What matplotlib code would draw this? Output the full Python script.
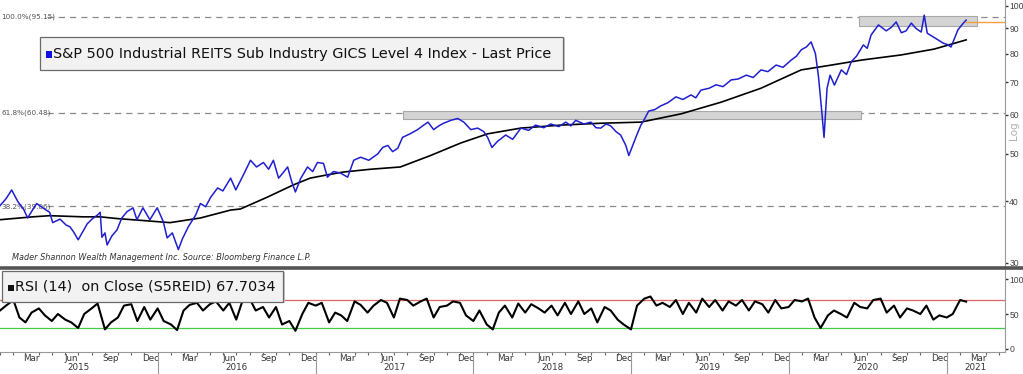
import matplotlib
matplotlib.use('Agg')
import matplotlib.pyplot as plt
import matplotlib.dates as mdates
import matplotlib.ticker as mticker
import pandas as pd
from matplotlib.patches import Rectangle
from matplotlib.lines import Line2D

# ---------------- data ----------------
price_dates = [
    "2015-01-01", "2015-01-15", "2015-01-28", "2015-02-11", "2015-02-25", "2015-03-06", "2015-03-18",
    "2015-03-27", "2015-04-10", "2015-04-26", "2015-05-03", "2015-05-20", "2015-06-03", "2015-06-12",
    "2015-06-21", "2015-07-01", "2015-07-10", "2015-07-22", "2015-08-02", "2015-08-16", "2015-08-21",
    "2015-08-25", "2015-09-01", "2015-09-06", "2015-09-17", "2015-09-29", "2015-10-10", "2015-10-22",
    "2015-11-05", "2015-11-14", "2015-11-28", "2015-12-14", "2015-12-31", "2016-01-14", "2016-01-23",
    "2016-02-04", "2016-02-18", "2016-02-27", "2016-03-12", "2016-03-29", "2016-04-09", "2016-04-21",
    "2016-05-03", "2016-05-19", "2016-05-31", "2016-06-18", "2016-06-30", "2016-07-16", "2016-08-03",
    "2016-08-17", "2016-09-02", "2016-09-14", "2016-09-25", "2016-10-07", "2016-10-18", "2016-10-28",
    "2016-11-06", "2016-11-15", "2016-11-27", "2016-12-13", "2016-12-25", "2017-01-05", "2017-01-19",
    "2017-01-28", "2017-02-11", "2017-02-27", "2017-03-16", "2017-03-30", "2017-04-15", "2017-05-04",
    "2017-05-25", "2017-06-05", "2017-06-17", "2017-06-28", "2017-07-10", "2017-07-21", "2017-08-09",
    "2017-08-25", "2017-09-08", "2017-09-18", "2017-10-01", "2017-10-13", "2017-10-24", "2017-11-10",
    "2017-11-26", "2017-12-10", "2017-12-26", "2018-01-11", "2018-01-25", "2018-02-03", "2018-02-13",
    "2018-02-26", "2018-03-17", "2018-04-02", "2018-04-21", "2018-05-09", "2018-05-25", "2018-06-13",
    "2018-06-29", "2018-07-18", "2018-08-03", "2018-08-15", "2018-08-26", "2018-09-14", "2018-09-30",
    "2018-10-12", "2018-10-23", "2018-11-04", "2018-11-15", "2018-11-27", "2018-12-08", "2018-12-20",
    "2018-12-27", "2019-01-05", "2019-01-14", "2019-01-24", "2019-02-02", "2019-02-11", "2019-02-25",
    "2019-03-11", "2019-03-27", "2019-04-15", "2019-05-01", "2019-05-20", "2019-05-31", "2019-06-12",
    "2019-07-01", "2019-07-17", "2019-08-02", "2019-08-21", "2019-09-06", "2019-09-25", "2019-10-11",
    "2019-10-29", "2019-11-14", "2019-12-03", "2019-12-19", "2020-01-07", "2020-01-19", "2020-01-30",
    "2020-02-11", "2020-02-22", "2020-03-03", "2020-03-10", "2020-03-17", "2020-03-23", "2020-03-30",
    "2020-04-06", "2020-04-16", "2020-05-02", "2020-05-14", "2020-05-25", "2020-06-06", "2020-06-22",
    "2020-07-01", "2020-07-10", "2020-07-27", "2020-08-14", "2020-08-26", "2020-09-06", "2020-09-18",
    "2020-09-29", "2020-10-11", "2020-10-22", "2020-11-03", "2020-11-10", "2020-11-17", "2020-12-01",
    "2020-12-12", "2020-12-24", "2021-01-02", "2021-01-11", "2021-01-18", "2021-01-27", "2021-02-05",
    "2021-02-15",
]
price_values = [
    39.2, 40.5, 42.2, 40.0, 38.5, 37.0, 38.5,
    39.6, 38.8, 38.0, 36.2, 36.8, 35.8, 35.5,
    34.6, 33.4, 34.5, 36.0, 36.8, 37.6, 38.0,
    33.8, 34.5, 32.6, 34.0, 35.0, 37.0, 38.1,
    38.8, 36.7, 38.8, 36.7, 38.8, 36.4, 33.7,
    34.5, 31.9, 33.5, 35.5, 37.5, 39.6, 39.0,
    40.8, 42.6, 42.0, 44.6, 42.2, 45.0, 48.5,
    47.0, 48.0, 46.5, 48.5, 44.6, 45.8, 47.0,
    44.0, 41.8, 44.5, 47.0, 46.0, 48.0, 47.8,
    44.8, 46.0, 45.7, 44.8, 48.5, 49.2, 48.5,
    50.0, 51.5, 52.0, 50.5, 51.3, 54.0, 55.0,
    56.0, 57.2, 58.0, 56.0, 57.0, 57.7, 58.5,
    59.0, 58.0, 56.0, 56.4, 55.5, 54.0, 51.5,
    53.0, 54.6, 53.5, 56.4, 55.8, 57.2, 56.5,
    57.5, 56.8, 58.0, 57.0, 58.5, 57.5, 58.0,
    56.5, 56.4, 57.5, 57.0, 55.5, 54.6, 52.0,
    49.6, 52.0, 54.5, 57.2, 59.0, 61.1, 61.5,
    62.6, 63.5, 65.3, 64.5, 65.9, 65.0, 67.4,
    68.0, 69.1, 68.5, 70.7, 71.0, 72.3, 71.5,
    74.1, 73.5, 75.8, 75.0, 77.6, 79.0, 81.4,
    82.5, 84.5, 80.0, 72.0, 62.0, 54.0, 68.0,
    72.3, 69.0, 74.1, 72.5, 77.0, 79.0, 83.3,
    82.0, 87.3, 91.5, 89.0, 90.5, 92.8, 88.2,
    89.0, 92.3, 90.0, 88.5, 95.8, 88.0, 86.5,
    85.3, 84.0, 83.5, 82.5, 85.5, 89.4, 91.5,
    93.6,
]

ma_dates = [
    "2015-01-01", "2015-03-18", "2015-04-26", "2015-07-12", "2015-08-21", "2015-09-29", "2015-11-21",
    "2016-01-30", "2016-04-09", "2016-06-18", "2016-07-11", "2016-09-11", "2016-11-10", "2016-12-19",
    "2017-01-28", "2017-03-06", "2017-05-08", "2017-07-16", "2017-09-24", "2017-12-03", "2018-02-03",
    "2018-04-21", "2018-07-23", "2018-10-23", "2019-01-24", "2019-04-27", "2019-07-29", "2019-10-29",
    "2020-01-30", "2020-04-09", "2020-06-18", "2020-09-18", "2020-12-03", "2021-02-15",
]
ma_values = [
    36.7, 37.2, 37.4, 37.2, 37.2, 36.9, 36.6,
    36.2, 37.0, 38.4, 38.6, 40.8, 43.2, 44.6,
    45.3, 45.9, 46.5, 47.0, 49.6, 52.6, 54.9,
    56.4, 57.2, 57.7, 58.0, 60.3, 63.7, 68.0,
    74.1, 75.8, 77.6, 79.5, 81.7, 85.3,
]

rsi_values = [
    55, 62, 70, 45, 38, 52, 58, 48, 40, 50, 42, 38, 30, 50, 58, 65, 28, 38, 45, 62, 64, 40, 60, 42,
    58, 40, 35, 27, 55, 63, 66, 55, 64, 68, 55, 66, 42, 68, 72, 55, 60, 45, 60, 35, 40, 26, 50, 66,
    62, 66, 38, 52, 48, 40, 68, 63, 52, 62, 70, 66, 45, 72, 70, 62, 68, 72, 45, 60, 62, 68, 66, 48,
    40, 55, 35, 28, 52, 62, 45, 65, 52, 64, 58, 52, 62, 48, 66, 50, 68, 50, 58, 38, 60, 55, 42, 35,
    28, 62, 72, 75, 62, 66, 60, 70, 50, 66, 52, 72, 60, 70, 55, 68, 62, 70, 55, 68, 64, 52, 70, 58,
    60, 70, 68, 72, 45, 30, 48, 55, 50, 45, 66, 60, 58, 70, 72, 52, 62, 45, 58, 55, 50, 62, 42, 48,
    45, 50, 70, 67.7034,
]
rsi_dates = pd.date_range("2015-01-01", "2021-02-15", freq="SMS")

fib_levels = [95.15, 60.48, 39.06]
fib_labels = ["100.0%(95.15)", "61.8%(60.48)", "38.2%(39.06)"]
last_price = 92.9
rsi_upper, rsi_lower = 70, 30
price_ticks = [30, 40, 50, 60, 70, 80, 90, 100]
rsi_ticks = [0, 50, 100]
years = [2015, 2016, 2017, 2018, 2019, 2020, 2021]
legend_main = "S&P 500 Industrial REITS Sub Industry GICS Level 4 Index - Last Price"
legend_rsi = "RSI (14)  on Close (S5REID) 67.7034"
source_text = "Mader Shannon Wealth Management Inc. Source: Bloomberg Finance L.P."

# ---------------- layout ----------------
W, H = 1023, 374
fig = plt.figure(figsize=(W / 100, H / 100), dpi=100)
fig.patch.set_facecolor('white')


def fx(px):
    return px / W


def fy(py):
    return 1 - py / H


ax = fig.add_axes([0, fy(267), fx(1005), fy(0) - fy(267)])
ax2 = fig.add_axes([0, fy(352), fx(1005), fy(270) - fy(352)])

x0 = pd.Timestamp("2015-01-01")
x1 = x0 + pd.Timedelta(days=2327)
for a in (ax, ax2):
    a.set_xlim(x0, x1)
    a.set_facecolor('white')

GRAY = '#8a8a8a'
TICKFONT = 'Liberation Sans'

# ---------------- main panel ----------------
pd_dates = pd.to_datetime(price_dates)
ax.plot(pd.to_datetime(ma_dates), ma_values, color='black', lw=1.2, zorder=3)
ax.plot(pd_dates, price_values, color='#1f1fd0', lw=1.1, zorder=4)

ax.set_yscale('log')
ax.set_ylim(29.4, 102.85)

# fib lines
for lev, lab in zip(fib_levels, fib_labels):
    ax.axhline(lev, xmin=47 / 1005, xmax=1, color=GRAY, lw=0.9, ls=(0, (5, 4)), zorder=1)
    ax.text(0.001, lev, lab, transform=ax.get_yaxis_transform(), fontsize=5.2,
            color='#555555', va='center', ha='left')

# gray zone boxes
box_mid = (pd.Timestamp("2017-07-23"), pd.Timestamp("2020-06-17"), 58.8, 61.1)
box_top = (pd.Timestamp("2020-06-12"), pd.Timestamp("2021-03-12"), 91.2, 95.6)
for (d0, d1, lo, hi) in (box_mid, box_top):
    xa = mdates.date2num(d0)
    xb = mdates.date2num(d1)
    ax.add_patch(Rectangle((xa, lo), xb - xa, hi - lo, facecolor='#d4d4d4',
                           edgecolor='#a8a8a8', lw=0.8, zorder=2))

# last price line
ax.plot([pd.Timestamp("2021-02-15"), x1], [last_price, last_price], color='#f0a040', lw=1.0, zorder=3)

ax.yaxis.tick_right()
ax.set_yticks(price_ticks)
ax.yaxis.set_major_formatter(mticker.FuncFormatter(lambda v, p: f"{int(v)}"))
ax.yaxis.set_minor_locator(mticker.NullLocator())
ax.tick_params(axis='y', which='major', direction='out', length=2.5, width=1, colors='#333333',
               labelsize=6.2, pad=0.5)
ax.tick_params(axis='y', labelcolor='#444444')
for lbl in ax.get_yticklabels():
    lbl.set_family(TICKFONT)
ax.set_xticks([])
for s in ('top', 'left', 'bottom'):
    ax.spines[s].set_visible(False)
ax.spines['right'].set_color('#999999')

ax.text(12 / 1005, (267 - 257) / 267, source_text, transform=ax.transAxes, fontsize=5.9,
        style='italic', color='#333333', va='center', ha='left')

# ---------------- RSI panel ----------------
ax2.plot(rsi_dates, rsi_values, color='black', lw=1.5, zorder=3)
ax2.axhline(rsi_upper, color='#e06666', lw=0.9, zorder=2)
ax2.axhline(rsi_lower, color='#44cc44', lw=0.9, zorder=2)
ax2.set_ylim(-4.3, 112.9)
ax2.yaxis.tick_right()
ax2.set_yticks(rsi_ticks)
ax2.tick_params(axis='y', direction='out', length=2.5, width=1, colors='#333333', labelsize=6.2, pad=0.5)
ax2.tick_params(axis='y', labelcolor='#444444')
for lbl in ax2.get_yticklabels():
    lbl.set_family(TICKFONT)
for s in ('top', 'left'):
    ax2.spines[s].set_visible(False)
ax2.spines['right'].set_color('#999999')
ax2.spines['bottom'].set_color('#999999')

ax2.xaxis.set_major_locator(mdates.MonthLocator(bymonth=[3, 6, 9, 12], bymonthday=15))
ax2.xaxis.set_major_formatter(mdates.DateFormatter('%b'))
ax2.xaxis.set_minor_locator(mdates.MonthLocator())
ax2.tick_params(axis='x', which='major', length=0, labelsize=6.3, labelcolor='#333333', pad=1.5)
ax2.tick_params(axis='x', which='minor', length=2.5, width=0.8, color='#666666', direction='out')

span = 82.0
for yr in years:
    ys = max(pd.Timestamp(f"{yr}-01-01"), x0)
    ye = min(pd.Timestamp(f"{yr + 1}-01-01"), x1)
    mid = ys + (ye - ys) / 2
    ax2.text(mid, -(368 - 352) / span, str(yr), transform=ax2.get_xaxis_transform(),
             fontsize=6.3, color='#333333', ha='center', va='center', clip_on=False)
    if yr > 2015:
        d = pd.Timestamp(f"{yr}-01-01")
        ax2.add_line(Line2D([d, d], [-(354 - 352) / span, -(374 - 352) / span],
                            transform=ax2.get_xaxis_transform(), color='#999999', lw=0.8,
                            clip_on=False))

# separator between panels
fig.add_artist(Line2D([0, 1], [fy(268), fy(268)], transform=fig.transFigure, color='#555555', lw=2.6))

# ---------------- legend boxes ----------------
def legend_box(x0p, y0p, x1p, y1p, sq_color, text, fs):
    fig.add_artist(Rectangle((fx(x0p) + 0.0015, fy(y1p) - 0.004), fx(x1p - x0p), fy(y0p) - fy(y1p),
                             transform=fig.transFigure, facecolor='#c8c8c8', edgecolor='none', zorder=9))
    fig.add_artist(Rectangle((fx(x0p), fy(y1p)), fx(x1p - x0p), fy(y0p) - fy(y1p),
                             transform=fig.transFigure, facecolor='#f2f2f2', edgecolor='#6a6a6a',
                             lw=0.9, zorder=10))
    ymid = (y0p + y1p) / 2
    fig.add_artist(Rectangle((fx(x0p + 6), fy(ymid + 4)), fx(5.5), fy(ymid - 2) - fy(ymid + 4),
                             transform=fig.transFigure, facecolor=sq_color, edgecolor='none', zorder=11))
    fig.text(fx(x0p + 13), fy(ymid + 0.5), text, fontsize=fs, color='#111111', ha='left', va='center',
             zorder=12, family='DejaVu Sans')


legend_box(40, 37, 563, 70, '#1010e0', legend_main, 10.4)
legend_box(2, 271, 283, 302, '#111111', legend_rsi, 10.4)

fig.text(fx(1014), fy(131), "Log", rotation=90, fontsize=7.5, color='#b0b0b0', ha='center', va='center')

fig.savefig('out.png', dpi=100)
